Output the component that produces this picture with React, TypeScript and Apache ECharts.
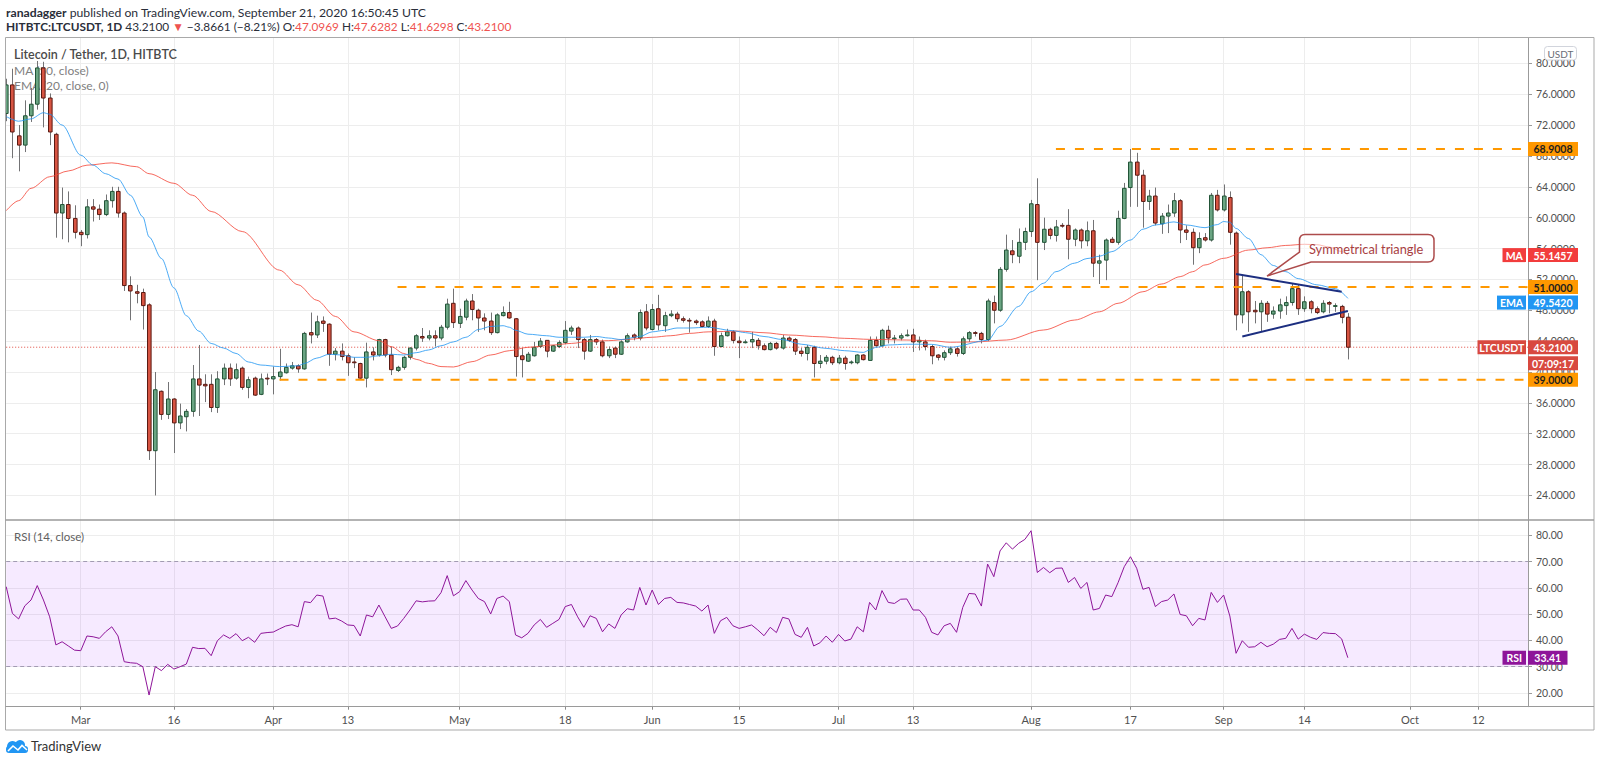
import React, { useEffect, useRef } from "react";
import * as echarts from "echarts";

const FONT = 'Lato, "Noto Sans", "Liberation Sans", sans-serif';

// ---- categories (daily, Feb 18 2020 .. Oct 20 2020) ----
const categories: string[] = Array.from({ length: 246 }, (_, i) =>
  new Date(Date.UTC(2020, 1, 18 + i)).toISOString().slice(0, 10)
);

const timeTicks: [string, string][] = [
  ["2020-03-01", "Mar"], ["2020-03-16", "16"], ["2020-04-01", "Apr"], ["2020-04-13", "13"],
  ["2020-05-01", "May"], ["2020-05-18", "18"], ["2020-06-01", "Jun"], ["2020-06-15", "15"],
  ["2020-07-01", "Jul"], ["2020-07-13", "13"], ["2020-08-01", "Aug"], ["2020-08-17", "17"],
  ["2020-09-01", "Sep"], ["2020-09-14", "14"], ["2020-10-01", "Oct"], ["2020-10-12", "12"],
];

const priceTicks = [24, 28, 32, 36, 40, 44, 48, 52, 56, 60, 64, 68, 72, 76, 80];
const rsiTicks = [20, 30, 40, 50, 60, 70, 80];

// ---- OHLC (Feb 18 .. Sep 21) ----
const open = [
  73.5, 77.2, 70.6, 69.4, 73.2, 74.7, 79.4, 75.5, 70.8, 60.6,
  61.7, 59.9, 58.1, 57.8, 61.4, 61.1, 60.4, 62.2, 63.4, 60.6,
  51.2, 50.4, 50.3, 48.7, 29.8, 37.5, 34.5, 36.5, 33.4, 34.2,
  34.9, 39.1, 38.4, 38.4, 35.4, 39.1, 40.5, 39.2, 40.5, 38.0,
  39.2, 37.1, 39.2, 39.1, 39.4, 39.9, 40.5, 40.8, 40.4, 45.1,
  44.8, 46.6, 46.2, 42.3, 42.7, 42.1, 41.3, 41.1, 39.2, 42.6,
  42.2, 44.2, 42.2, 40.2, 40.6, 41.9, 43.1, 44.6, 44.4, 44.7,
  44.4, 45.8, 48.9, 46.3, 47.1, 49.2, 48.0, 47.0, 46.6, 45.1,
  47.3, 47.7, 46.9, 42.1, 41.4, 42.1, 43.3, 44.1, 42.7, 43.3,
  43.8, 45.3, 45.7, 44.2, 42.7, 44.2, 43.9, 42.1, 43.1, 42.3,
  43.9, 44.8, 44.4, 47.8, 45.5, 48.2, 46.0, 47.3, 47.5, 46.9,
  46.7, 46.6, 46.5, 45.9, 46.6, 43.3, 44.7, 45.2, 44.0, 43.8,
  43.9, 44.1, 43.4, 42.9, 43.7, 43.1, 44.4, 44.2, 42.7, 42.4,
  43.2, 41.1, 41.4, 41.9, 41.2, 41.8, 41.2, 41.2, 42.2, 41.5,
  44.1, 43.4, 45.4, 44.3, 44.4, 44.7, 44.8, 43.9, 43.9, 43.3,
  42.2, 41.9, 42.5, 43.0, 42.4, 44.3, 45.1, 45.0, 44.2, 49.0,
  48.0, 53.3, 55.7, 55.0, 56.8, 58.2, 61.7, 56.8, 58.5, 57.7,
  59.0, 59.0, 57.2, 58.4, 57.0, 58.3, 54.1, 54.5, 57.2, 56.8,
  59.9, 63.9, 67.2, 65.5, 62.1, 62.8, 59.2, 60.2, 60.6, 62.2,
  58.4, 58.1, 56.1, 57.4, 57.1, 62.9, 61.0, 62.6, 58.0, 47.4,
  50.4, 48.0, 47.8, 48.9, 47.5, 47.9, 48.6, 49.0, 50.8, 48.2,
  49.1, 48.2, 47.8, 49.0, 48.5, 48.5, 47.0969,
];
const close = [
  77.2, 71.1, 69.4, 73.2, 74.7, 79.4, 75.5, 71.1, 60.6, 61.7,
  59.9, 58.1, 57.8, 61.4, 61.1, 60.4, 62.2, 63.4, 60.6, 51.2,
  50.5, 50.2, 48.6, 29.8, 37.7, 34.5, 36.5, 33.4, 34.3, 34.9,
  39.1, 38.3, 38.2, 35.4, 39.1, 40.5, 39.1, 40.3, 38.0, 39.0,
  37.0, 39.1, 39.1, 39.4, 40.0, 40.6, 40.8, 40.4, 45.0, 44.8,
  46.5, 46.3, 42.3, 42.7, 42.0, 41.2, 41.2, 39.2, 42.6, 42.2,
  44.2, 42.2, 40.3, 40.6, 41.9, 43.1, 44.7, 44.4, 44.7, 44.4,
  45.8, 48.8, 46.4, 47.2, 49.2, 48.1, 47.0, 46.6, 45.1, 47.4,
  47.7, 47.0, 42.0, 41.6, 42.3, 43.2, 44.0, 42.7, 43.4, 43.8,
  45.4, 45.7, 44.2, 42.7, 44.2, 43.9, 42.1, 42.9, 42.3, 43.9,
  44.7, 44.5, 47.7, 45.7, 48.1, 46.1, 47.3, 47.5, 46.9, 46.7,
  46.6, 46.4, 45.9, 46.6, 43.3, 44.7, 45.2, 44.1, 43.8, 43.9,
  44.2, 43.4, 42.9, 43.7, 43.1, 44.4, 44.1, 42.7, 42.4, 43.2,
  41.1, 41.4, 41.9, 41.2, 41.8, 41.1, 41.3, 42.2, 41.6, 44.1,
  43.4, 45.4, 44.4, 44.4, 44.7, 44.8, 43.9, 44.1, 43.3, 42.1,
  41.9, 42.5, 43.0, 42.4, 44.3, 45.1, 45.0, 44.2, 49.2, 48.0,
  53.3, 55.8, 55.2, 56.8, 58.2, 61.8, 56.8, 58.5, 57.7, 58.8,
  58.9, 57.2, 58.4, 57.0, 58.3, 54.1, 54.4, 57.1, 56.8, 59.9,
  63.8, 67.2, 65.5, 62.1, 62.8, 59.3, 60.2, 60.6, 62.2, 58.4,
  58.1, 56.1, 57.3, 57.1, 62.9, 61.0, 62.8, 58.1, 47.4, 50.4,
  47.8, 47.8, 48.9, 47.5, 47.9, 48.7, 49.0, 50.8, 48.2, 49.1,
  48.2, 47.7, 48.9, 48.8, 48.6, 47.08, 43.21,
];
const high = [
  78.0, 79.3, 72.0, 75.2, 76.8, 80.3, 80.2, 76.1, 71.0, 63.9,
  63.4, 61.6, 58.4, 62.4, 62.4, 61.7, 63.0, 64.0, 64.0, 60.8,
  52.4, 51.3, 50.8, 48.9, 40.0, 37.6, 38.7, 36.6, 35.9, 35.2,
  40.9, 43.5, 39.7, 39.7, 40.1, 41.1, 41.1, 41.1, 40.7, 39.4,
  39.4, 39.8, 39.8, 40.7, 43.0, 41.1, 41.3, 41.0, 45.2, 47.7,
  47.3, 47.2, 46.3, 43.1, 43.7, 42.4, 41.9, 41.2, 43.8, 43.2,
  44.3, 44.3, 43.3, 40.8, 42.1, 43.2, 44.9, 45.7, 45.4, 45.4,
  46.1, 49.5, 50.8, 48.2, 49.5, 50.1, 48.2, 47.6, 47.7, 47.6,
  48.5, 49.1, 47.0, 43.1, 42.6, 43.9, 44.4, 44.1, 43.5, 44.1,
  46.6, 46.0, 45.9, 44.4, 44.8, 44.4, 44.2, 43.3, 43.3, 44.1,
  45.0, 45.0, 48.1, 48.8, 48.8, 50.0, 47.8, 48.0, 47.8, 47.2,
  47.0, 46.8, 46.7, 47.2, 46.9, 45.1, 45.6, 45.4, 44.6, 44.2,
  45.2, 44.4, 43.7, 43.9, 43.9, 44.8, 44.6, 44.4, 43.1, 43.5,
  43.4, 42.2, 42.2, 42.1, 42.2, 42.1, 41.5, 42.3, 42.3, 44.6,
  44.6, 45.6, 46.0, 44.8, 45.0, 45.5, 45.6, 44.6, 44.2, 43.5,
  42.3, 42.8, 43.3, 43.2, 44.6, 45.3, 45.3, 45.2, 49.5, 49.9,
  53.6, 57.8, 57.1, 58.6, 58.7, 62.3, 65.1, 60.0, 58.7, 59.7,
  59.3, 61.1, 58.6, 58.6, 59.5, 59.7, 55.2, 57.3, 57.5, 60.9,
  64.5, 68.9, 68.4, 66.2, 63.6, 63.9, 60.6, 61.7, 63.2, 62.4,
  59.0, 58.6, 58.1, 58.0, 63.2, 63.6, 64.3, 63.4, 58.2, 52.6,
  50.6, 49.2, 49.3, 49.2, 48.5, 49.5, 49.8, 51.4, 51.3, 49.8,
  49.3, 48.5, 49.3, 49.2, 48.9, 48.7, 47.6282,
];
const low = [
  72.5, 67.7, 66.0, 68.5, 72.4, 74.0, 71.7, 69.4, 57.4, 57.2,
  56.8, 57.3, 56.3, 57.3, 59.5, 59.7, 60.2, 61.3, 60.0, 50.5,
  46.7, 48.9, 45.5, 28.6, 24.0, 33.8, 33.9, 29.5, 32.6, 32.3,
  34.2, 34.3, 36.1, 34.8, 34.7, 38.3, 38.2, 39.0, 37.7, 36.6,
  36.9, 37.0, 38.3, 37.1, 38.9, 39.8, 40.3, 39.9, 40.3, 43.7,
  44.4, 45.2, 40.8, 41.5, 41.5, 39.5, 40.5, 39.0, 38.0, 41.5,
  42.0, 41.9, 39.6, 40.0, 40.3, 41.6, 42.8, 43.9, 44.1, 43.3,
  44.1, 45.5, 45.7, 45.7, 46.7, 46.7, 45.2, 45.4, 44.8, 45.0,
  47.2, 46.9, 39.4, 39.3, 41.3, 42.0, 43.1, 41.9, 42.6, 43.1,
  43.6, 44.8, 43.1, 41.6, 42.6, 43.5, 41.9, 41.8, 41.8, 42.2,
  43.8, 44.1, 44.1, 45.4, 45.4, 45.4, 45.2, 47.1, 46.5, 46.4,
  45.1, 46.1, 45.8, 45.7, 42.1, 43.2, 44.6, 43.7, 41.8, 43.7,
  43.1, 42.9, 42.8, 42.8, 42.9, 42.9, 43.9, 42.2, 42.0, 41.5,
  39.3, 40.5, 41.0, 40.9, 41.0, 40.3, 41.0, 41.0, 41.5, 41.5,
  43.3, 43.3, 43.7, 43.7, 44.1, 44.6, 42.6, 42.8, 42.8, 41.0,
  41.5, 41.5, 42.2, 42.0, 42.2, 43.9, 44.6, 43.7, 44.0, 46.3,
  47.8, 53.0, 54.1, 54.1, 55.8, 57.5, 51.9, 55.8, 57.2, 56.9,
  58.7, 54.6, 56.3, 56.0, 56.3, 52.3, 51.4, 51.9, 56.7, 56.5,
  59.8, 61.4, 61.4, 58.7, 61.0, 59.0, 57.9, 58.0, 60.1, 56.7,
  57.1, 53.9, 55.4, 56.9, 56.9, 60.8, 60.8, 56.5, 45.4, 46.3,
  45.2, 46.3, 45.2, 46.5, 46.9, 46.9, 47.4, 48.6, 47.4, 47.8,
  47.6, 47.5, 47.6, 47.6, 47.8, 46.3, 41.6298,
];

// ---- RSI(14) ----
const rsi = [
  60.5, 50.3, 48.2, 53.2, 55.4, 60.9, 55.4, 49.0, 38.3, 39.5,
  37.9, 36.3, 36.1, 41.7, 41.4, 40.8, 43.3, 45.2, 41.7, 31.9,
  31.5, 31.3, 30.0, 19.2, 30.0, 28.5, 30.9, 29.1, 30.0, 31.0,
  37.4, 36.9, 37.0, 34.2, 39.9, 42.1, 40.8, 42.6, 39.9, 41.2,
  39.3, 42.7, 43.0, 43.2, 44.4, 45.5, 46.0, 45.2, 54.8, 54.4,
  57.3, 56.9, 48.2, 48.5, 47.4, 45.9, 45.7, 41.7, 49.7, 49.0,
  53.5, 49.0, 44.6, 45.5, 48.4, 51.6, 55.1, 54.7, 55.0, 55.1,
  58.2, 64.7, 57.0, 58.6, 62.8, 59.2, 56.0, 54.8, 50.1, 56.0,
  56.9, 54.8, 42.1, 41.0, 42.7, 45.9, 48.0, 45.0, 46.5, 48.0,
  52.9, 53.7, 49.0, 45.0, 49.4, 48.4, 43.3, 46.3, 44.6, 49.7,
  52.1, 51.6, 60.2, 53.5, 59.2, 53.7, 56.0, 56.4, 54.5, 54.3,
  53.7, 53.1, 51.2, 53.5, 42.7, 47.5, 48.8, 45.6, 44.6, 45.2,
  45.9, 44.0, 41.8, 45.0, 43.0, 48.8, 48.2, 42.3, 41.2, 45.0,
  37.9, 39.1, 41.7, 39.3, 42.3, 39.8, 40.5, 45.2, 43.3, 54.5,
  51.6, 59.0, 54.5, 54.1, 55.7, 55.8, 51.6, 51.6, 48.8, 43.1,
  42.1, 45.6, 46.5, 43.1, 52.6, 57.9, 57.7, 53.1, 69.1, 64.3,
  74.1, 77.2, 74.8, 77.0, 78.5, 81.8, 65.9, 67.8, 65.8, 67.5,
  67.6, 62.1, 64.0, 59.8, 62.1, 51.6, 52.2, 57.3, 56.7, 62.0,
  68.1, 71.9, 67.5, 59.5, 60.2, 52.9, 54.8, 55.4, 57.7, 49.9,
  49.4, 45.6, 48.4, 47.8, 58.3, 54.5, 57.3, 49.3, 35.1, 39.9,
  37.4, 37.6, 39.3, 37.6, 38.6, 40.4, 40.8, 44.6, 40.5, 42.4,
  41.2, 40.4, 43.0, 42.7, 42.6, 40.6, 33.41,
];

// ---- moving averages: [day index, value] ----
const ma50: [number, number][] = [
  [0, 60.9], [2, 62.2], [4, 63.8], [7, 65.3], [10, 66.05], [13, 66.8], [17, 67.1], [21, 66.6],
  [23, 65.7], [27, 64.45], [30, 62.9], [33, 60.8], [38, 58.2], [44, 53.2], [47, 51.3], [50, 49.3],
  [53, 47.2], [56, 45.2], [60, 44.06], [62, 43.28], [64, 42.4], [66, 41.64], [68, 41.12], [70, 40.7],
  [72, 40.65], [75, 41.34], [78, 42.2], [81, 42.76], [84, 43.2], [88, 43.5], [91, 43.7], [94, 44.0],
  [97, 44.06], [100, 44.23], [104, 44.5], [107, 44.7], [110, 45.0], [113, 45.2], [118, 45.3],
  [122, 45.09], [126, 44.79], [131, 44.57], [135, 44.36], [139, 44.23], [145, 44.14], [149, 44.05],
  [152, 43.85], [156, 43.9], [161, 44.14], [167, 45.44], [172, 46.73], [176, 47.8], [179, 48.9],
  [183, 50.4], [186, 51.4], [189, 52.35], [191, 53.0], [193, 53.87], [196, 54.73], [200, 55.8],
  [203, 56.1], [206, 56.4], [209, 56.55], [211, 56.5], [213, 56.2], [215, 55.6], [216, 55.1457],
];
const ema20: [number, number][] = [
  [0, 73.1], [2, 72.5], [4, 72.8], [6, 73.6], [7, 73.4], [9, 72.0], [12, 68.1], [14, 66.8],
  [16, 65.7], [18, 65.0], [20, 62.9], [22, 60.1], [23, 57.5], [25, 54.7], [27, 50.9], [29, 47.3],
  [31, 45.3], [33, 43.7], [35, 43.1], [37, 42.4], [39, 41.3], [41, 40.9], [44, 40.7], [47, 40.8],
  [48, 41.1], [50, 41.8], [52, 42.3], [54, 42.2], [56, 41.9], [58, 41.9], [60, 42.1], [62, 42.3],
  [64, 42.2], [66, 42.5], [68, 42.85], [70, 43.4], [72, 43.9], [74, 44.5], [76, 45.5], [78, 45.9],
  [80, 46.0], [81, 45.8], [82, 45.4], [84, 44.9], [87, 44.7], [89, 44.5], [91, 44.5], [93, 44.5],
  [95, 44.6], [97, 44.4], [99, 44.2], [102, 44.6], [104, 45.2], [106, 45.4], [108, 45.7], [110, 45.7],
  [113, 45.8], [117, 45.35], [119, 45.1], [122, 44.6], [125, 44.2], [128, 43.6], [132, 43.06],
  [135, 42.76], [138, 42.54], [139, 42.85], [140, 43.19], [142, 43.5], [145, 43.6], [147, 43.6],
  [149, 43.58], [152, 43.2], [158, 44.1], [160, 45.9], [163, 48.5], [165, 50.4], [167, 51.5],
  [169, 53.0], [172, 54.1], [174, 54.7], [176, 55.0], [178, 55.6], [181, 57.1], [183, 58.5],
  [185, 59.05], [188, 59.45], [190, 59.05], [193, 58.7], [195, 59.1], [196, 59.5], [197, 59.4],
  [198, 58.6], [200, 57.3], [202, 55.2], [204, 53.8], [206, 53.0], [208, 52.1], [211, 51.3],
  [214, 50.8], [216, 49.542],
];

// ---- drawings ----
const levelValues = [68.9008, 51.0, 39.0];
const levelStarts = [169, 63, 44];
const triangleUpper: [number, number][] = [[198, 52.7], [215, 50.4]];
const triangleLower: [number, number][] = [[199, 44.6], [216, 47.9]];
const lastPrice = 43.21;
const lastMa = 55.1457;
const lastEma = 49.542;
const lastRsi = 33.41;

const CALLOUT_D =
  "M1305,234.5 L1428,234.5 Q1434,234.5 1434,240.5 L1434,256 Q1434,262 1428,262 L1311,262 L1267,276 L1299.5,252 L1299.5,240.5 Q1299.5,234.5 1305,234.5 Z";
echarts.graphic.registerShape("tvCallout", echarts.graphic.extendPath(CALLOUT_D, {}));

const GRID = "#ededed";
const AXIS_TXT = "#505050";
const tickMap = new Map(timeTicks);
const isTick = (_i: number, v: string) => tickMap.has(v);
const LAST_IDX = categories.length - 1;

function buildOption(): any {
  const candleData = open.map((o, i) => [i, o, close[i], low[i], high[i]]);
  const levelSeries = levelValues.map((v, k) => ({
    type: "line",
    xAxisIndex: 0,
    yAxisIndex: 0,
    data: [[levelStarts[k], v], [LAST_IDX, v]],
    showSymbol: false,
    symbol: "none",
    silent: true,
    lineStyle: { color: "#ff9800", width: 2, type: [9, 10] },
    z: 6,
  }));
  return {
    animation: false,
    backgroundColor: "#ffffff",
    textStyle: { fontFamily: FONT },
    grid: [
      { left: 6.2, right: 72, top: 38, height: 482, containLabel: false, outerBoundsMode: "none" },
      { left: 6.2, right: 72, top: 520, height: 186.7, containLabel: false, outerBoundsMode: "none" },
    ],
    xAxis: [
      {
        type: "category", gridIndex: 0, data: categories, boundaryGap: false,
        axisLine: { show: false }, axisTick: { show: false }, axisLabel: { show: false },
        splitLine: { show: true, interval: isTick, lineStyle: { color: GRID, width: 1 } },
      },
      {
        type: "category", gridIndex: 1, data: categories, boundaryGap: false,
        axisLine: { show: false },
        axisTick: { show: true, interval: isTick, length: 3, lineStyle: { color: "#8a8a8a" } },
        axisLabel: {
          show: true, interval: isTick, formatter: (v: string) => tickMap.get(v) ?? "",
          color: AXIS_TXT, fontSize: 11, fontFamily: FONT, margin: 7,
        },
        splitLine: { show: true, interval: isTick, lineStyle: { color: GRID, width: 1 } },
      },
    ],
    yAxis: [
      {
        type: "value", gridIndex: 0, position: "right", min: 20.82, max: 83.28,
        axisLine: { show: true, lineStyle: { color: "#9b9b9b" } },
        axisTick: { show: true, customValues: priceTicks, length: 4, lineStyle: { color: "#9b9b9b" } },
        axisLabel: {
          show: true, customValues: priceTicks, formatter: (v: number) => v.toFixed(4),
          color: AXIS_TXT, fontSize: 10.5, fontFamily: FONT, margin: 8,
        },
        splitLine: { show: true, lineStyle: { color: GRID, width: 1 } },
      },
      {
        type: "value", gridIndex: 1, position: "right", min: 14.76, max: 85.89,
        axisLine: { show: true, lineStyle: { color: "#9b9b9b" } },
        axisTick: { show: true, customValues: rsiTicks, length: 4, lineStyle: { color: "#9b9b9b" } },
        axisLabel: {
          show: true, customValues: rsiTicks, formatter: (v: number) => v.toFixed(2),
          color: AXIS_TXT, fontSize: 10.5, fontFamily: FONT, margin: 8,
        },
        splitLine: { show: true, lineStyle: { color: GRID, width: 1 } },
      },
    ],
    series: [
      {
        type: "line", name: "last", xAxisIndex: 0, yAxisIndex: 0,
        data: [[0, lastPrice], [LAST_IDX, lastPrice]], showSymbol: false, symbol: "none", silent: true,
        lineStyle: { color: "#e0483d", width: 1, type: [1, 2] }, z: 2,
      },
      {
        type: "custom", name: "LTCUSDT", xAxisIndex: 0, yAxisIndex: 0, clip: true,
        data: candleData,
        encode: { x: 0, y: [1, 2, 3, 4] },
        renderItem: (_params: any, api: any) => {
          const i = api.value(0);
          const o = api.value(1), c = api.value(2), l = api.value(3), h = api.value(4);
          const pO = api.coord([i, o]);
          const pC = api.coord([i, c]);
          const pL = api.coord([i, l]);
          const pH = api.coord([i, h]);
          const cx = Math.round(pO[0]);
          const up = c >= o;
          const top = Math.min(pO[1], pC[1]);
          const bot = Math.max(pO[1], pC[1]);
          return {
            type: "group",
            children: [
              { type: "line", shape: { x1: cx + 0.5, y1: pH[1], x2: cx + 0.5, y2: pL[1] }, style: { stroke: "#737375", lineWidth: 1 } },
              {
                type: "rect",
                shape: { x: cx - 1.5, y: top, width: 3.6, height: Math.max(0.8, bot - top) },
                style: { fill: up ? "#6ba583" : "#d75442", stroke: up ? "#225437" : "#5b1a13", lineWidth: 1 },
              },
            ],
          };
        },
        z: 3,
      },
      {
        type: "line", name: "MA", xAxisIndex: 0, yAxisIndex: 0, data: ma50, showSymbol: false, symbol: "none",
        smooth: 0.3, smoothMonotone: "x", silent: true, lineStyle: { color: "#f44336", width: 1, opacity: 0.8 }, z: 4,
      },
      {
        type: "line", name: "EMA", xAxisIndex: 0, yAxisIndex: 0, data: ema20, showSymbol: false, symbol: "none",
        smooth: 0.3, smoothMonotone: "x", silent: true, lineStyle: { color: "#2196f3", width: 1, opacity: 0.8 }, z: 4,
      },
      ...levelSeries,
      {
        type: "line", xAxisIndex: 0, yAxisIndex: 0, data: triangleUpper, showSymbol: false, symbol: "none", silent: true,
        lineStyle: { color: "#1c2e80", width: 2 }, z: 7,
      },
      {
        type: "line", xAxisIndex: 0, yAxisIndex: 0, data: triangleLower, showSymbol: false, symbol: "none", silent: true,
        lineStyle: { color: "#1c2e80", width: 2 }, z: 7,
      },
      {
        type: "line", name: "RSI", xAxisIndex: 1, yAxisIndex: 1, data: rsi, showSymbol: false, symbol: "none", silent: true,
        lineStyle: { color: "#8e1599", width: 1 }, z: 5,
        markArea: {
          silent: true,
          itemStyle: { color: "rgba(153, 21, 255, 0.09)" },
          data: [[{ yAxis: 30 }, { yAxis: 70 }]],
        },
        markLine: {
          silent: true, symbol: ["none", "none"], label: { show: false },
          lineStyle: { color: "#a29bb2", width: 1, type: [4, 3] },
          data: [{ yAxis: 70 }, { yAxis: 30 }],
        },
      },
    ],
  };
}

const measureCtx = document.createElement("canvas").getContext("2d") as CanvasRenderingContext2D;
function textWidth(text: string, font: string) {
  measureCtx.font = font;
  return measureCtx.measureText(text).width;
}

function txt(x: number, y: number, text: string, font: string, fill: string, align = "left", z = 60): any {
  return {
    type: "text", x, y, z, silent: true,
    style: { text, font, fill, align, textAlign: align, verticalAlign: "middle", textVerticalAlign: "middle" },
  };
}

function segLine(x0: number, y: number, segs: { t: string; bold?: boolean; color?: string }[], size: number): any[] {
  const out: any[] = [];
  let x = x0;
  for (const s of segs) {
    const font = `${s.bold ? "bold " : ""}${size}px ${FONT}`;
    out.push(txt(x, y, s.t, font, s.color ?? "#2a2e39"));
    x += textWidth(s.t, font);
  }
  return out;
}

function buildOverlay(chart: any): any[] {
  const els: any[] = [];
  const RED = "#ef5350";
  // header
  els.push(...segLine(6, 12, [
    { t: "ranadagger", bold: true },
    { t: " published on TradingView.com, September 21, 2020 16:50:45 UTC" },
  ], 12.2));
  els.push(...segLine(6, 26.5, [
    { t: "HITBTC:LTCUSDT, 1D", bold: true },
    { t: " 43.2100 " },
    { t: "▼", color: RED },
    { t: " −3.8661 (−8.21%) " },
    { t: "O:" }, { t: "47.0969", color: RED },
    { t: " H:" }, { t: "47.6282", color: RED },
    { t: " L:" }, { t: "41.6298", color: RED },
    { t: " C:" }, { t: "43.2100", color: RED },
  ], 11.8));

  // frame + separators
  els.push({ type: "rect", z: 40, silent: true, shape: { x: 5.5, y: 37.5, width: 1588.5, height: 692.5 }, style: { fill: "none", stroke: "#a9a9a9", lineWidth: 1 } });
  els.push({ type: "line", z: 40, silent: true, shape: { x1: 5.5, y1: 520, x2: 1594, y2: 520 }, style: { stroke: "#9a9a9a", lineWidth: 1.5 } });
  els.push({ type: "line", z: 40, silent: true, shape: { x1: 5.5, y1: 706.5, x2: 1594, y2: 706.5 }, style: { stroke: "#9a9a9a", lineWidth: 1 } });

  // pane legends (under candles)
  els.push(txt(14, 54.5, "Litecoin / Tether, 1D, HITBTC", `600 12.5px ${FONT}`, "#4a4a4a", "left", 1));
  els.push(txt(14, 70, "MA (50, close)", `12px ${FONT}`, "#808080", "left", 1));
  els.push(txt(14, 85, "EMA (20, close, 0)", `12px ${FONT}`, "#808080", "left", 1));
  els.push(txt(14, 536, "RSI (14, close)", `11.5px ${FONT}`, "#606060", "left", 1));

  // USDT unit box
  els.push({ type: "rect", z: 60, silent: true, shape: { x: 1544.5, y: 46.5, width: 32, height: 13.5, r: 3 }, style: { fill: "#fff", stroke: "#d1d4dc", lineWidth: 1 } });
  els.push(txt(1560.5, 53.5, "USDT", `10px ${FONT}`, "#6a6d78", "center"));

  // price-scale labels
  const py = (v: number) => chart.convertToPixel({ yAxisIndex: 0 }, v);
  type Lab = { v: number; text: string; bg: string; fg: string; name?: string; nameW?: number; extra?: string };
  const labs: Lab[] = [
    { v: levelValues[0], text: levelValues[0].toFixed(4), bg: "#ff9800", fg: "#1e1e1e" },
    { v: lastMa, text: lastMa.toFixed(4), bg: "#f23c3c", fg: "#fff", name: "MA", nameW: 23.5 },
    { v: levelValues[1], text: levelValues[1].toFixed(4), bg: "#ff9800", fg: "#1e1e1e" },
    { v: lastEma, text: lastEma.toFixed(4), bg: "#2196f3", fg: "#fff", name: "EMA", nameW: 29 },
    { v: lastPrice, text: lastPrice.toFixed(4), bg: "#d8493f", fg: "#fff", name: "LTCUSDT", nameW: 48.5, extra: "07:09:17" },
    { v: levelValues[2], text: levelValues[2].toFixed(4), bg: "#ff9800", fg: "#1e1e1e" },
  ];
  const H = 14;
  let prevBottom = -1e9;
  const placed = labs
    .map((l) => ({ ...l, y: py(l.v) }))
    .sort((a, b) => a.y - b.y);
  for (const l of placed) {
    let top = l.y - H / 2;
    if (top < prevBottom + 1.5) top = prevBottom + 1.5;
    const font = `bold 10.5px ${FONT}`;
    els.push({ type: "rect", z: 100, silent: true, shape: { x: 1528, y: top, width: 50, height: H }, style: { fill: l.bg } });
    els.push(txt(1553, top + H / 2 + 0.5, l.text, font, l.fg, "center", 101));
    if (l.name) {
      const w = l.nameW as number;
      els.push({ type: "rect", z: 100, silent: true, shape: { x: 1526 - w, y: top, width: w, height: H }, style: { fill: l.bg } });
      els.push(txt(1526 - w / 2, top + H / 2 + 0.5, l.name, font, "#fff", "center", 101));
    }
    let bottom = top + H;
    if (l.extra) {
      const t2 = bottom + 2;
      els.push({ type: "rect", z: 100, silent: true, shape: { x: 1528, y: t2, width: 50, height: H }, style: { fill: l.bg } });
      els.push(txt(1553, t2 + H / 2 + 0.5, l.extra, font, l.fg, "center", 101));
      bottom = t2 + H;
    }
    prevBottom = bottom;
  }

  // RSI label
  const ry = chart.convertToPixel({ yAxisIndex: 1 }, lastRsi);
  const rfont = `bold 10.5px ${FONT}`;
  els.push({ type: "rect", z: 100, silent: true, shape: { x: 1528, y: ry - 7, width: 39.5, height: 14 }, style: { fill: "#8e1599" } });
  els.push(txt(1547.75, ry + 0.5, lastRsi.toFixed(2), rfont, "#fff", "center", 101));
  els.push({ type: "rect", z: 100, silent: true, shape: { x: 1502.5, y: ry - 7, width: 23.5, height: 14 }, style: { fill: "#8e1599" } });
  els.push(txt(1514.25, ry + 0.5, "RSI", rfont, "#fff", "center", 101));

  // callout annotation
  els.push({ type: "tvCallout", x: 0, y: 0, scaleX: 1, scaleY: 1, z: 80, silent: true, style: { fill: "rgba(255,255,255,0.55)", stroke: "#ad4b4b", lineWidth: 1.5 } });
  els.push(txt(1309, 248.5, "Symmetrical triangle", `12.8px ${FONT}`, "#a8403f", "left", 81));

  // footer logo + text
  els.push({ type: "circle", z: 60, silent: true, shape: { cx: 12.5, cy: 746.5, r: 5.5 }, style: { fill: "#2196f3" } });
  els.push({ type: "circle", z: 60, silent: true, shape: { cx: 20, cy: 745, r: 5 }, style: { fill: "#2196f3" } });
  els.push({ type: "rect", z: 60, silent: true, shape: { x: 6, y: 746, width: 22, height: 7, r: 3 }, style: { fill: "#2196f3" } });
  els.push({ type: "polyline", z: 61, silent: true, shape: { points: [[8, 751], [13, 746], [18, 750], [22, 745.5], [27, 750]] }, style: { stroke: "#fff", lineWidth: 1.6, fill: "none" } });
  els.push(txt(31, 746, "TradingView", `13px ${FONT}`, "#333333"));
  return els;
}

export default function App() {
  const ref = useRef<HTMLDivElement>(null);
  useEffect(() => {
    const el = ref.current as HTMLDivElement;
    const chart = echarts.init(el, null, { renderer: "svg" });
    chart.setOption(buildOption());
    chart.setOption({ graphic: { elements: buildOverlay(chart) } });
    return () => chart.dispose();
  }, []);
  return (
    <div
      ref={ref}
      style={{ position: "fixed", left: 0, top: 0, width: 1600, height: 763, background: "#ffffff" }}
    />
  );
}
